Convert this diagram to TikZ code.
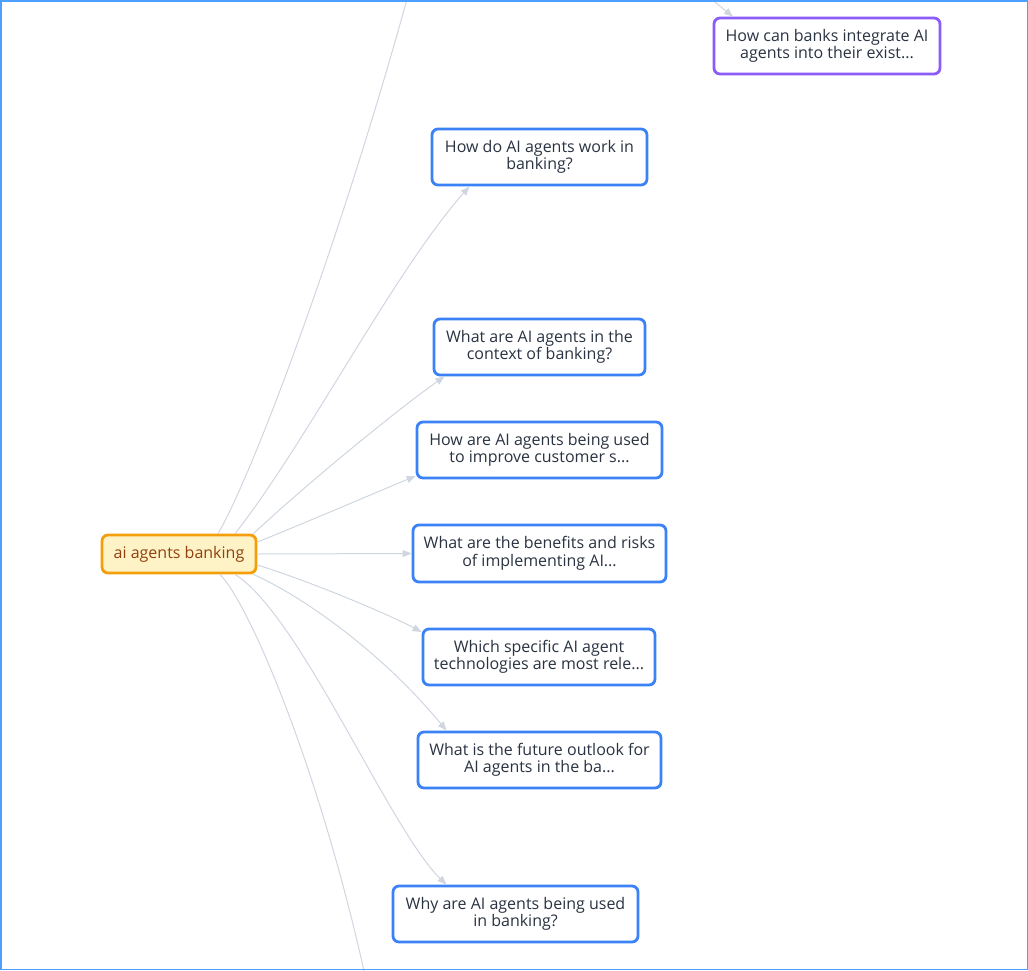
\documentclass[tikz,border=0pt]{standalone}
\usepackage{fontspec}
\setmainfont{Open Sans}
\usetikzlibrary{arrows.meta,calc}
\definecolor{edgec}{HTML}{CFD6E0}
\definecolor{qblue}{HTML}{3B82F6}
\definecolor{qpurple}{HTML}{8B5CF6}
\definecolor{rootborder}{HTML}{F59E0B}
\definecolor{rootfill}{HTML}{FEF3C7}
\definecolor{roottext}{HTML}{92400E}
\definecolor{txt}{HTML}{2A3342}
\definecolor{frame}{HTML}{4DA0FF}
\begin{document}
\begin{tikzpicture}[x=1pt,y=-1pt,
  qbox/.style={draw=qblue, line width=2.8pt, rounded corners=6pt, fill=white,
    align=center, text=txt, font=\fontsize{16}{17.5}\selectfont, inner sep=0pt},
  pbox/.style={qbox, draw=qpurple},
  rootbox/.style={draw=rootborder, fill=rootfill, line width=2.8pt, rounded corners=6pt,
    text=roottext, font=\fontsize{16}{17.5}\selectfont, inner sep=0pt,
    minimum width=154pt, minimum height=38pt},
  link/.style={draw=edgec, line width=1pt, -{Triangle[length=9pt,width=7pt]}},
  plainlink/.style={draw=edgec, line width=1pt},
]
\useasboundingbox (0,0) rectangle (1028,970);

% nodes
\node[rootbox] (root) at (179,554) {ai agents banking};
\node[pbox, minimum width=226pt, minimum height=56pt] (p1) at (827,46) {How can banks integrate AI\\agents into their exist...};
\node[qbox, minimum width=215pt, minimum height=56pt] (n1) at (539.5,157) {How do AI agents work in\\banking?};
\node[qbox, minimum width=211pt, minimum height=56pt] (n2) at (539.5,347) {What are AI agents in the\\context of banking?};
\node[qbox, minimum width=245pt, minimum height=56pt] (n3) at (539.5,450) {How are AI agents being used\\to improve customer s...};
\node[qbox, minimum width=253pt, minimum height=57pt] (n4) at (539.5,553.5) {What are the benefits and risks\\of implementing AI...};
\node[qbox, minimum width=232pt, minimum height=56pt] (n5) at (539,657) {Which specific AI agent\\technologies are most rele...};
\node[qbox, minimum width=243pt, minimum height=56pt] (n6) at (539.5,760) {What is the future outlook for\\AI agents in the ba...};
\node[qbox, minimum width=245pt, minimum height=56pt] (n7) at (515.5,914) {Why are AI agents being used\\in banking?};

\coordinate (offtop) at (409,-8);
\coordinate (offbottom) at (366,980);
\coordinate (offpurple) at (700,-10);

% connectors
\begin{scope}
\clip (0,0) rectangle (1028,970);
\draw[plainlink] ([xshift=39pt]root.north) .. controls (250,480) and (338,250) .. (offtop);
\draw[link] ([xshift=56pt]root.north) .. controls (305,445) and (395,270) .. ([xshift=-70pt]n1.south);
\draw[link] ([xshift=-4pt]root.north east) .. controls (300,490) and (390,415) .. ([xshift=-95pt]n2.south);
\draw[link] ([yshift=12pt]root.east) .. controls (300,525) and (370,495) .. ([yshift=-26pt]n3.west);
\draw[link] (root.east) -- (n4.west);
\draw[link] ([yshift=-11pt]root.east) .. controls (300,578) and (380,610) .. ([yshift=25pt]n5.west);
\draw[link] ([xshift=-4pt]root.south east) .. controls (300,595) and (380,650) .. ([xshift=-93pt]n6.north);
\draw[link] ([xshift=56pt]root.south) .. controls (300,615) and (390,830) .. ([xshift=-69pt]n7.north);
\draw[plainlink] ([xshift=41pt]root.south) .. controls (250,605) and (320,770) .. (offbottom);
\draw[link] (offpurple) -- ([xshift=-94pt]p1.north);
\end{scope}

\draw[frame, line width=1.5pt] (0.75,0.75) rectangle (1027.25,969.25);
\end{tikzpicture}
\end{document}
